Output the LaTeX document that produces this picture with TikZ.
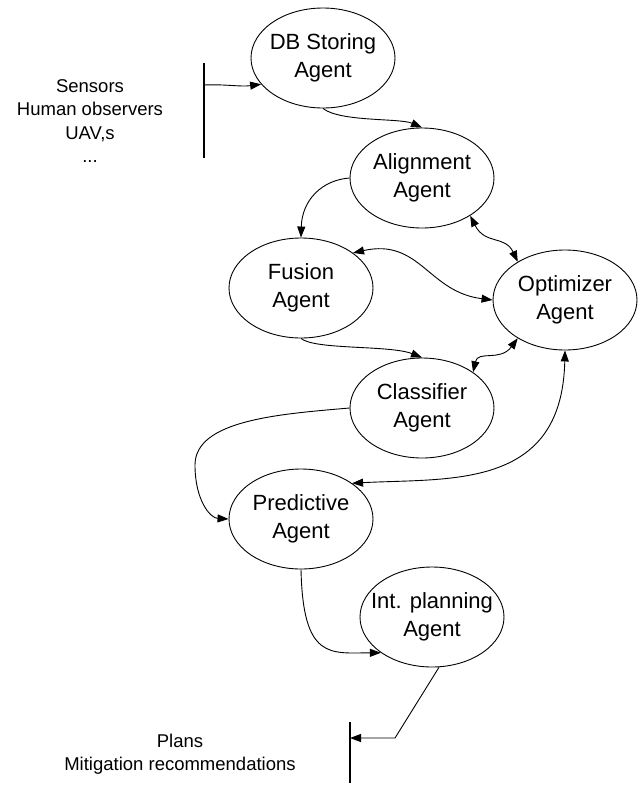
\documentclass[tikz,border=0pt]{standalone}
\usepackage{fontspec}
\setmainfont{Liberation Sans}
\usetikzlibrary{shapes.geometric, arrows.meta}

\begin{document}
\begin{tikzpicture}[x=1pt, y=-1pt,
        agent/.style={ellipse, draw, line width=0.9pt, minimum width=144, minimum height=100, inner sep=0pt},
        agenttext/.style={align=center, font=\fontsize{22}{28}\selectfont},
        note/.style={align=center, font=\fontsize{18.5}{23.5}\selectfont},
        bar/.style={line width=1.1pt},
        connection/.style={->, line width=0.9pt},
        twoway/.style={<->, line width=0.9pt},
        >={Triangle[length=11pt, width=8pt]}
    ]
    \useasboundingbox (0,0) rectangle (642,785);

    % Agents
    \node[agent, label={[agenttext]center:DB Storing\\Agent}] (db) at (323,58) {};
    \node[agent, label={[agenttext]center:Alignment\\Agent}] (al) at (422,178) {};
    \node[agent, label={[agenttext]center:Fusion\\Agent}] (fu) at (301,288) {};
    \node[agent, label={[agenttext]center:Optimizer\\Agent}] (op) at (565,300) {};
    \node[agent, label={[agenttext]center:Classifier\\Agent}] (cl) at (422,408) {};
    \node[agent, label={[agenttext]center:Predictive\\Agent}] (pr) at (301,519) {};
    \node[agent, label={[agenttext]center:Int. planning\\Agent}] (ip) at (432,617) {};

    % Inputs and outputs
    \node[note] (src) at (90,121) {Sensors\\Human observers\\UAV,s\\...};
    \node[note] (dst) at (180,754) {Plans\\Mitigation recommendations};
    \coordinate (srctop) at (204,63);
    \coordinate (srcbot) at (204,158);
    \coordinate (srcmid) at (204,85);
    \coordinate (dsttop) at (350,722);
    \coordinate (dstbot) at (350,783);
    \coordinate (dstmid) at (350,738);
    \draw[bar] (srctop) -- (srcbot);
    \draw[bar] (dsttop) -- (dstbot);

    % Connections
    \draw[connection] (srcmid) .. controls (225,84) and (240,87) .. (db.203);
    \draw[connection] (db.south) .. controls (340,122) and (400,118) .. (al.north);
    \draw[connection] (al.west) .. controls (322,180) and (302,200) .. (fu.north);
    \draw[twoway] (al.-38) .. controls (485,245) and (505,235) .. (op.141);
    \draw[twoway] (fu.34) .. controls (420,238) and (428,292) .. (op.west);
    \draw[connection] (fu.south) .. controls (315,350) and (390,345) .. (cl.north);
    \draw[twoway] (cl.35) .. controls (478,350) and (500,362) .. (op.219);
    \draw[connection] (cl.west) .. controls (280,414) and (195,420) .. (195,465)
        .. controls (195,500) and (210,518) .. (pr.west);
    \draw[twoway] (op.south) .. controls (562,490) and (450,478) .. (pr.35);
    \draw[connection] (pr.south) .. controls (303,660) and (330,653) .. (ip.215);
    \draw[connection] (ip.-82) -- (395,738) -- (dstmid);

\end{tikzpicture}
\end{document}
